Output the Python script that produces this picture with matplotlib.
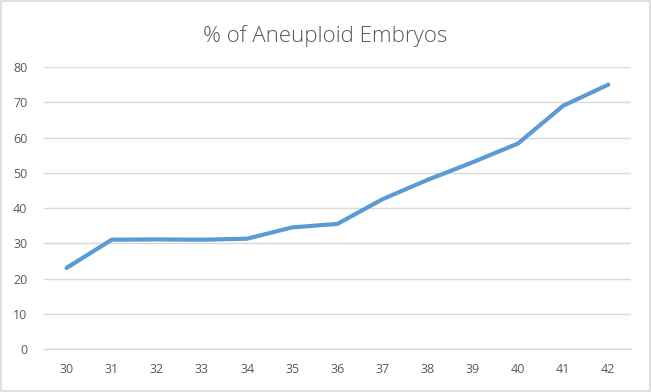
import matplotlib

matplotlib.use("Agg")
import matplotlib.pyplot as plt
from matplotlib.patches import Rectangle

ages = ["30", "31", "32", "33", "34", "35", "36", "37", "38", "39", "40", "41", "42"]
aneuploid_pct = [23.0, 31.0, 31.1, 31.0, 31.3, 34.5, 35.5, 42.5, 48.0, 53.0, 58.3, 69.0, 75.0]
y_ticks = [0, 10, 20, 30, 40, 50, 60, 70, 80]

plt.rcParams["font.family"] = ["Open Sans", "DejaVu Sans"]
text_grey = "#595959"

fig = plt.figure(figsize=(6.51, 3.92), dpi=100)
ax = fig.add_axes([0.0676, 0.1097, 0.9014, 0.7193])

x = list(range(len(ages)))
ax.plot(x, aneuploid_pct, color="#5B9BD5", linewidth=3.0,
        solid_capstyle="round", solid_joinstyle="round", zorder=3)

ax.set_xlim(-0.5, len(ages) - 0.5)
ax.set_ylim(0, 80)
ax.set_xticks(x)
ax.set_xticklabels(ages)
ax.set_yticks(y_ticks)
ax.tick_params(axis="both", length=0, labelsize=9, colors=text_grey)
ax.tick_params(axis="x", pad=10)
ax.tick_params(axis="y", pad=12)
ax.grid(axis="y", color="#D9D9D9", linewidth=1.0, zorder=0)
for side in ["top", "right", "left"]:
    ax.spines[side].set_visible(False)
ax.spines["bottom"].set_color("#D9D9D9")
ax.spines["bottom"].set_linewidth(1.0)

fig.text(0.5, 0.908, "% of Aneuploid Embryos", ha="center", va="center",
         fontsize=16, color=text_grey, fontweight="light")

fig.patches.append(Rectangle((0.002, 0.003), 0.996, 0.994, transform=fig.transFigure,
                             fill=False, edgecolor="#D9D9D9", linewidth=1.2))

fig.savefig("out.png", dpi=100)
